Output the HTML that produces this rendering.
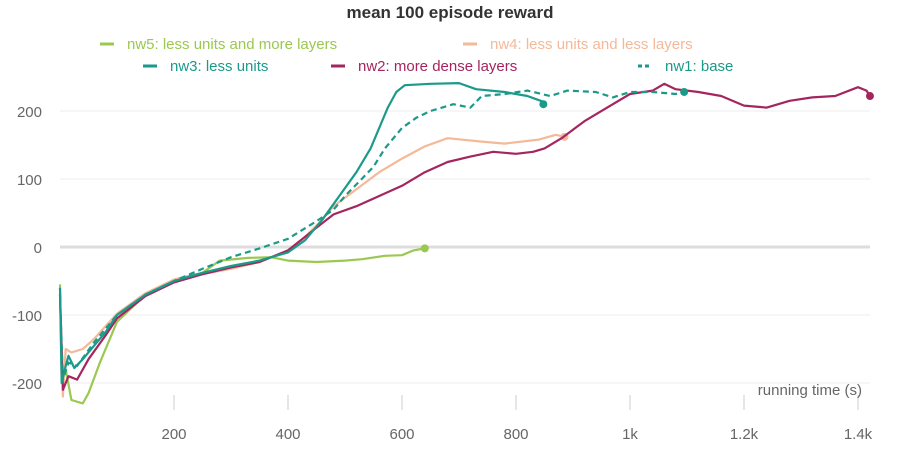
<!DOCTYPE html>
<html><head><meta charset="utf-8"><style>
body{margin:0;background:#fff;font-family:"Liberation Sans",sans-serif}
svg text{font-family:"Liberation Sans",sans-serif}
</style></head><body>
<svg id="c" width="900" height="450">
<text x="450" y="18" text-anchor="middle" font-size="17" font-weight="bold" fill="#333">mean 100 episode reward</text>
<g id="grid"></g><g id="series"></g><g id="legend"></g>
<text x="862" y="395" text-anchor="end" font-size="15" fill="#666">running time (s)</text>
</svg>
<script>
const xTicks=[200,400,600,800,1000,1200,1400];
const xTickLabels=["200","400","600","800","1k","1.2k","1.4k"];
const yTicks=[-200,-100,0,100,200];
const seriesNames=["nw5: less units and more layers","nw4: less units and less layers","nw3: less units","nw2: more dense layers","nw1: base"];
const nw5=[[0,-55],[3,-200],[10,-180],[20,-225],[40,-230],[50,-215],[70,-170],[100,-110],[150,-70],[200,-48],[250,-38],[280,-20],[330,-16],[370,-15],[400,-20],[450,-22],[500,-20],[530,-18],[570,-13],[600,-12],[620,-5],[640,-2]];
const nw4=[[0,-70],[5,-220],[10,-150],[20,-155],[40,-150],[60,-135],[100,-98],[150,-68],[200,-48],[250,-40],[300,-32],[350,-22],[400,-5],[430,15],[460,40],[480,60],[520,85],[560,110],[600,130],[640,148],[680,160],[740,155],[780,152],[840,158],[870,165],[885,162]];
const nw3=[[0,-60],[3,-200],[10,-175],[15,-160],[25,-178],[40,-165],[60,-145],[80,-125],[100,-100],[150,-70],[200,-50],[250,-38],[300,-28],[350,-20],[400,-8],[430,10],[460,40],[490,75],[520,110],[545,145],[560,175],[575,205],[590,228],[605,238],[650,240],[700,241],[730,232],[780,228],[820,222],[850,213],[848,210]];
const nw2=[[0,-70],[5,-210],[15,-190],[30,-195],[50,-165],[80,-130],[100,-105],[150,-72],[200,-52],[250,-40],[300,-30],[350,-22],[400,-5],[430,15],[460,35],[480,48],[520,60],[560,75],[600,90],[640,110],[680,125],[720,133],[760,140],[800,137],[830,140],[850,145],[880,160],[920,185],[960,205],[1000,225],[1040,230],[1060,240],[1080,232],[1120,228],[1160,222],[1200,208],[1240,205],[1280,215],[1320,220],[1360,222],[1400,235],[1415,230],[1421,222]];
const nw1=[[0,-70],[5,-195],[15,-170],[30,-175],[60,-140],[100,-100],[150,-70],[200,-50],[250,-32],[300,-15],[350,-2],[400,12],[450,38],[480,55],[500,75],[520,92],[550,118],[570,145],[600,175],[625,190],[650,200],[690,210],[720,205],[740,222],[780,225],[820,230],[860,222],[890,230],[940,228],[970,220],[1000,228],[1040,228],[1080,225],[1095,228]];
const X=t=>60+t*0.57, Y=v=>247-v*0.68;
const NS="http://www.w3.org/2000/svg";
function mk(tag,attrs,parent){const e=document.createElementNS(NS,tag);for(const k in attrs)e.setAttribute(k,attrs[k]);parent.appendChild(e);return e;}
const grid=document.getElementById('grid');
yTicks.forEach(v=>{
  const l=mk('line',{x1:60,x2:870,y1:Y(v),y2:Y(v),stroke:v===0?'#ddd':'#eee','stroke-width':v===0?3:1},grid);
  
  
  const t=mk('text',{x:42,y:Y(v)+6,'text-anchor':'end','font-size':15,fill:'#666'},grid);
  t.textContent=String(v);
  
  
});
xTicks.forEach((v,i)=>{
  const l=mk('line',{x1:X(v),x2:X(v),y1:395,y2:410,stroke:'#ddd','stroke-width':1.5},grid);
  
  
  const t=mk('text',{x:X(v),y:439,'text-anchor':'middle','font-size':15,fill:'#666'},grid);
  t.textContent=xTickLabels[i];
  
  
});
const sg=document.getElementById('series');
const defs=[[nw5,'#9bc850',null,'series-nw5'],[nw4,'#f4b998',null,'series-nw4'],[nw2,'#a3265f',null,'series-nw2'],[nw1,'#1b9a8a','6,4','series-nw1'],[nw3,'#1b9a8a',null,'series-nw3']];
defs.forEach(([d,c,dash,name])=>{
  const p=mk('path',{d:d.map((q,i)=>(i?'L':'M')+X(q[0]).toFixed(1)+','+Y(q[1]).toFixed(1)).join(''),fill:'none',stroke:c,'stroke-width':2.2,'stroke-linejoin':'round'},sg);
  if(dash)p.setAttribute('stroke-dasharray',dash);
  
  
  const last=d[d.length-1];
  const dot=mk('circle',{cx:X(last[0]),cy:Y(last[1]),r:4,fill:c},sg);
  
  
});
const lg=document.getElementById('legend');
const legPos=[[100,44,'#9bc850',null],[463,44,'#f4b998',null],[143,66,'#1b9a8a',null],[331,66,'#a3265f',null],[638,66,'#1b9a8a','4,3']];
legPos.forEach(([x,y,c,dash],i)=>{
  const l=mk('line',{x1:x,x2:x+14,y1:y,y2:y,stroke:c,'stroke-width':3},lg);
  if(dash)l.setAttribute('stroke-dasharray',dash);
  
  
  const t=mk('text',{x:x+27,y:y+5,'font-size':15,fill:c},lg);
  t.textContent=seriesNames[i];
  
  
});
</script>
</body></html>
